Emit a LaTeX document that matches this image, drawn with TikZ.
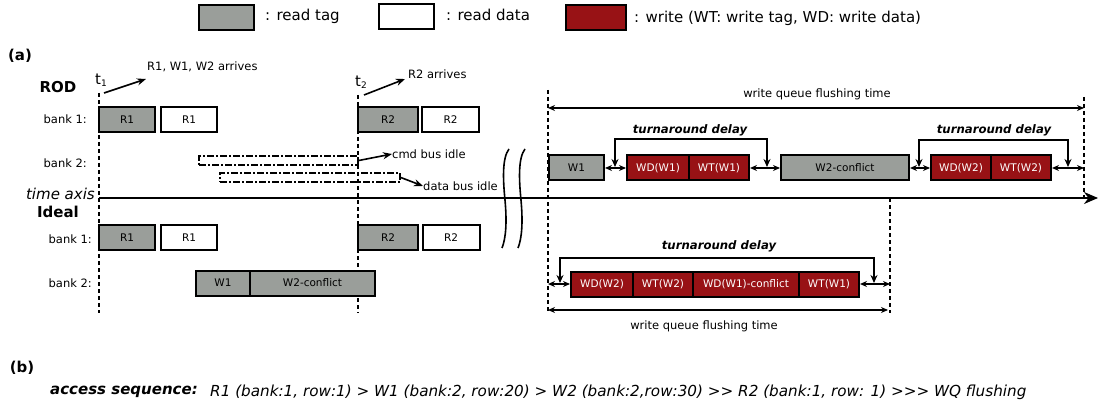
\documentclass[tikz,border=0pt]{standalone}
\usepackage{fontspec}
\setmainfont{DejaVu Sans}
\usetikzlibrary{arrows.meta}
\definecolor{tagGray}{RGB}{154,158,154}
\definecolor{wRed}{RGB}{152,18,21}
\begin{document}
\begin{tikzpicture}[x=1pt,y=-1pt,
  box/.style={draw=black, line width=2pt, minimum height=25pt, inner sep=0pt, font=\fontsize{10.5}{12}\selectfont},
  rtag/.style={box, fill=tagGray},
  rdata/.style={box, fill=white},
  wr/.style={box, fill=wRed, text=white},
  lbl/.style={font=\fontsize{11.5}{13}\selectfont, inner sep=0pt},
  big/.style={font=\fontsize{15}{18}\selectfont, inner sep=0pt},
  bigb/.style={font=\fontsize{15}{18}\selectfont\bfseries, inner sep=0pt},
  tl/.style={line width=1.6pt, dash pattern=on 4pt off 3pt},
  arr/.style={line width=1.6pt, -{Stealth[length=9pt,width=7pt]}},
  dbl/.style={line width=1.6pt, {Stealth[length=7pt,width=6pt]}-{Stealth[length=7pt,width=6pt]}},
  brk/.style={line width=1.6pt, {Stealth[length=8pt,width=7pt]}-{Stealth[length=8pt,width=7pt]}},
  idle/.style={draw, line width=1.6pt, dash pattern=on 7pt off 2pt on 2pt off 2pt, inner sep=0pt},
  ta/.style={font=\fontsize{11.7}{14}\selectfont\bfseries\itshape, inner sep=0pt},
]
\useasboundingbox (0,0) rectangle (1098,409);

% legend
\node[rtag, minimum width=55] (lg1) at (226.5,17.5) {};
\node[big, anchor=west] (lt1) at (265,16) {: read tag};
\node[rdata, minimum width=55] (lg2) at (406.5,16.5) {};
\node[big, anchor=west] (lt2) at (446,15) {: read data};
\node[wr, minimum width=60] (lg3) at (596,18) {};
\node[big, anchor=west] (lt3) at (634,18) {: write (WT: write tag, WD: write data)};

% (a) labels
\node[bigb] (pa) at (20,56) {(a)};
\node[bigb] (rod) at (58,87) {ROD};
\node[big, font=\fontsize{15}{18}\selectfont\itshape, anchor=east] (tax) at (95,194) {time axis};
\node[bigb] (ideal) at (58,212) {Ideal};

\node[lbl, anchor=east] (rb1) at (87,119) {bank 1:};
\node[lbl, anchor=east] (rb2) at (87,163) {bank 2:};
\node[lbl, anchor=east] (ib1) at (92,239) {bank 1:};
\node[lbl, anchor=east] (ib2) at (92,283) {bank 2:};

% t1, t2
\node[big] (t1) at (101,80) {t\raisebox{-2pt}{\fontsize{9}{9}\selectfont 1}};
\node[big] (t2) at (361,82) {t\raisebox{-2pt}{\fontsize{9}{9}\selectfont 2}};
\node[lbl, anchor=west] (arr1) at (147,67) {R1, W1, W2 arrives};
\node[lbl, anchor=west] (arr2) at (408,74) {R2 arrives};
\coordinate (a1s) at (104,93);
\coordinate (a1e) at (146,79);
\coordinate (a2s) at (364,95);
\coordinate (a2e) at (405,79);
\draw[arr] (a1s) -- (a1e);
\draw[arr] (a2s) -- (a2e);

% vertical dashed lines
\coordinate (v1t) at (99,93);  \coordinate (v1b) at (99,313);
\coordinate (v2t) at (358,95); \coordinate (v2b) at (358,313);
\coordinate (v3t) at (548,90); \coordinate (v3b) at (548,313);
\coordinate (v4t) at (1084,97); \coordinate (v4b) at (1084,198);
\coordinate (v5t) at (890,198); \coordinate (v5b) at (890,313);
\draw[tl] (v1t) -- (v1b);
\draw[tl] (v2t) -- (v2b);
\draw[tl] (v3t) -- (v3b);
\draw[tl] (v4t) -- (v4b);
\draw[tl] (v5t) -- (v5b);

% ROD bank 1
\node[rtag, minimum width=56] (rR1t) at (127,120) {R1};
\node[rdata, minimum width=56] (rR1d) at (189,120) {R1};
\node[rtag, minimum width=60] (rR2t) at (388,120) {R2};
\node[rdata, minimum width=57] (rR2d) at (450.5,120) {R2};

% idle boxes
\node[idle, minimum width=159, minimum height=9] (cmd) at (278.5,160.5) {};
\node[idle, minimum width=180, minimum height=9] (dat) at (310,177.5) {};
\node[lbl, anchor=west] (cmdt) at (392,154) {cmd bus idle};
\node[lbl, anchor=west] (datt) at (423,186) {data bus idle};
\draw[arr] (cmd.east) -- (cmdt.west);
\draw[arr] (dat.east) -- (datt.west);

% time axis
\coordinate (axs) at (99,198);
\coordinate (axe) at (1098,198);
\draw[line width=2pt, -{Stealth[length=14pt,width=12pt]}] (axs) -- (axe);

% Ideal bank 1 / 2
\node[rtag, minimum width=56] (iR1t) at (127,237.5) {R1};
\node[rdata, minimum width=56] (iR1d) at (189,237.5) {R1};
\node[rtag, minimum width=60] (iR2t) at (388,237.5) {R2};
\node[rdata, minimum width=57] (iR2d) at (451,237.5) {R2};
\node[rtag, minimum width=54] (iW1) at (223,283) {W1};
\node[rtag, minimum width=125] (iW2) at (312.5,283) {W2-conflict};

% break marks
\draw[line width=1.6pt] (509,149) .. controls (502,158) and (503,180) .. (505,200) .. controls (507,222) and (506,238) .. (502,248);
\draw[line width=1.6pt] (525,149) .. controls (518,158) and (519,180) .. (521,200) .. controls (523,222) and (522,238) .. (518,248);

% ROD write queue flushing
\coordinate (fl1) at (548,108);
\coordinate (fl2) at (1084,108);
\draw[dbl] (fl1) -- (fl2);
\node[lbl] (flt) at (817,94) {write queue flushing time};

\node[rtag, minimum width=55] (W1) at (576.5,168) {W1};
\node[wr, minimum width=62] (WDW1) at (658,168) {WD(W1)};
\node[wr, minimum width=60] (WTW1) at (719,168) {WT(W1)};
\node[rtag, minimum width=128] (W2c) at (845,168) {W2-conflict};
\node[wr, minimum width=60] (WDW2) at (961,168) {WD(W2)};
\node[wr, minimum width=60] (WTW2) at (1021,168) {WT(W2)};
\coordinate (re) at (1084,168);
\draw[dbl] (W1.east) -- (WDW1.west);
\draw[dbl] (WTW1.east) -- (W2c.west);
\draw[dbl] (W2c.east) -- (WDW2.west);
\draw[dbl] (WTW2.east) -- (re);

\coordinate (b1a) at (615,167); \coordinate (b1b) at (615,139);
\coordinate (b1c) at (767,139); \coordinate (b1d) at (767,167);
\draw[brk] (b1a) -- (b1b) -- (b1c) -- (b1d);
\node[ta] (td1) at (690,130) {turnaround delay};
\coordinate (b2a) at (919,167); \coordinate (b2b) at (919,140);
\coordinate (b2c) at (1068,140); \coordinate (b2d) at (1068,167);
\draw[brk] (b2a) -- (b2b) -- (b2c) -- (b2d);
\node[ta] (td2) at (994,130) {turnaround delay};

% Ideal writes
\node[wr, minimum width=62] (iWD2) at (602,284) {WD(W2)};
\node[wr, minimum width=60] (iWT2) at (663,284) {WT(W2)};
\node[wr, minimum width=106] (iWD1) at (746,284) {WD(W1)-conflict};
\node[wr, minimum width=60] (iWT1) at (829,284) {WT(W1)};
\coordinate (il) at (548,284);
\coordinate (ir) at (890,284);
\draw[dbl] (il) -- (iWD2.west);
\draw[dbl] (iWT1.east) -- (ir);
\coordinate (b3a) at (560,283); \coordinate (b3b) at (560,258);
\coordinate (b3c) at (874,258); \coordinate (b3d) at (874,283);
\draw[brk] (b3a) -- (b3b) -- (b3c) -- (b3d);
\node[ta] (td3) at (719,246) {turnaround delay};
\coordinate (fl3) at (548,310);
\coordinate (fl4) at (888,310);
\draw[dbl] (fl3) -- (fl4);
\node[lbl] (flt2) at (704,326) {write queue flushing time};

% (b)
\node[bigb] (pb) at (22,368) {(b)};
\node[font=\fontsize{15}{18}\selectfont\bfseries\itshape, inner sep=0pt, anchor=west] (acc) at (50,392) {access sequence:};
\node[font=\fontsize{15.2}{18}\selectfont\itshape, inner sep=0pt, anchor=west] (seq) at (210,392) {R1 (bank:1, row:1) > W1 (bank:2, row:20) > W2 (bank:2,row:30) >{}> R2 (bank:1, row: 1) >{}>{}> WQ flushing};
\end{tikzpicture}
\end{document}
